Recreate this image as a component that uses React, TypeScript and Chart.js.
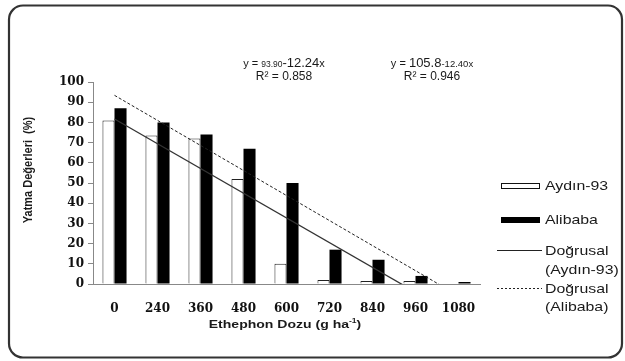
import React, { useEffect, useRef } from "react";
import { Chart, registerables } from "chart.js";

Chart.register(...registerables);

const doses = ["0", "240", "360", "480", "600", "720", "840", "960", "1080"];
const aydinValues = [81, 73.5, 72, 52, 10, 2, 1.5, 1.5, 0];
const alibabaValues = [87, 80, 74, 67, 50, 17, 12, 4, 1];
// Linear trend lines (y = 93.90 - 12.24x and y = 105.8 - 12.40x): two points each, read at
// the first category and at a category where the line is already below the axis (clipped there).
const aydinTrend = [81.66, null, null, null, null, null, null, -4.02, null];
const alibabaTrend = [93.4, null, null, null, null, null, null, null, -5.8];

const SANS = '"Liberation Sans", Arial, sans-serif';
const HS = 1.22;

function scaledText(ctx: CanvasRenderingContext2D, text: string, x: number, y: number, font: string, align: CanvasTextAlign, hs: number) {
  ctx.save();
  ctx.font = font;
  ctx.translate(x, y);
  ctx.scale(hs, 1);
  ctx.textAlign = align;
  ctx.textBaseline = "middle";
  ctx.fillText(text, 0, 0);
  ctx.restore();
}

function drawRuns(ctx: CanvasRenderingContext2D, runs: [string, string][], cx: number, baseline: number) {
  ctx.save();
  ctx.textBaseline = "alphabetic";
  ctx.textAlign = "left";
  let total = 0;
  for (const [t, f] of runs) {
    ctx.font = f;
    total += ctx.measureText(t).width;
  }
  let x = cx - total / 2;
  for (const [t, f] of runs) {
    ctx.font = f;
    ctx.fillText(t, x, baseline);
    x += ctx.measureText(t).width;
  }
  ctx.restore();
}

const decorPlugin = {
  id: "decor",
  beforeDraw(chart: any) {
    const ctx: CanvasRenderingContext2D = chart.ctx;
    ctx.save();
    ctx.fillStyle = "#ffffff";
    ctx.fillRect(0, 0, chart.width, chart.height);
    ctx.strokeStyle = "#333333";
    ctx.lineWidth = 2.2;
    ctx.beginPath();
    ctx.roundRect(9, 5.5, 613, 352, 14);
    ctx.stroke();
    ctx.restore();
  },
  afterDraw(chart: any) {
    const ctx: CanvasRenderingContext2D = chart.ctx;
    ctx.save();
    ctx.fillStyle = "#1a1a1a";
    // equations
    drawRuns(ctx, [
      ["y = ", `11px ${SANS}`],
      ["93.90", `8.5px ${SANS}`],
      ["-12.24", `13px ${SANS}`],
      ["x", `11px ${SANS}`],
    ], 284, 67);
    drawRuns(ctx, [["R\u00B2 = 0.858", `12px ${SANS}`]], 284, 80);
    drawRuns(ctx, [
      ["y = ", `11px ${SANS}`],
      ["105.8", `13px ${SANS}`],
      ["-12.40x", `9.5px ${SANS}`],
    ], 432, 67);
    drawRuns(ctx, [["R\u00B2 = 0.946", `12px ${SANS}`]], 432, 80);

    // y axis title
    ctx.save();
    ctx.translate(28, 170);
    ctx.rotate(-Math.PI / 2);
    ctx.font = `bold 11px ${SANS}`;
    ctx.textAlign = "center";
    ctx.textBaseline = "middle";
    ctx.scale(1, HS);
    ctx.fillText("Yatma De\u011Ferleri  (%)", 0, 0);
    ctx.restore();

    // x axis title
    {
      const main = "Ethephon Dozu (g ha";
      const sup = "-1";
      const end = ")";
      const fMain = `bold 11.5px ${SANS}`;
      const fSup = `bold 7px ${SANS}`;
      ctx.font = fMain;
      const w1 = ctx.measureText(main).width;
      const w3 = ctx.measureText(end).width;
      ctx.font = fSup;
      const w2 = ctx.measureText(sup).width;
      const total = (w1 + w2 + w3) * HS;
      let x = 285 - total / 2;
      scaledText(ctx, main, x, 325, fMain, "left", HS);
      x += w1 * HS;
      scaledText(ctx, sup, x, 321, fSup, "left", HS);
      x += w2 * HS;
      scaledText(ctx, end, x, 325, fMain, "left", HS);
    }

    // legend
    ctx.lineWidth = 1;
    ctx.strokeStyle = "#111";
    ctx.fillStyle = "#ffffff";
    ctx.fillRect(501.5, 183.5, 38, 5);
    ctx.strokeRect(501.5, 183.5, 38, 5);
    ctx.fillStyle = "#000000";
    ctx.fillRect(501, 217, 39, 6);
    ctx.strokeStyle = "#222";
    ctx.beginPath();
    ctx.moveTo(497, 250.5);
    ctx.lineTo(542, 250.5);
    ctx.stroke();
    ctx.setLineDash([2, 2]);
    ctx.beginPath();
    ctx.moveTo(497, 288.5);
    ctx.lineTo(542, 288.5);
    ctx.stroke();
    ctx.setLineDash([]);
    ctx.fillStyle = "#1a1a1a";
    const lf = `13px ${SANS}`;
    scaledText(ctx, "Ayd\u0131n-93", 545, 186.5, lf, "left", HS);
    scaledText(ctx, "Alibaba", 545, 220, lf, "left", HS);
    scaledText(ctx, "Do\u011Frusal", 545, 251.5, lf, "left", HS);
    scaledText(ctx, "(Ayd\u0131n-93)", 545, 270.5, lf, "left", HS);
    scaledText(ctx, "Do\u011Frusal", 545, 289, lf, "left", HS);
    scaledText(ctx, "(Alibaba)", 545, 307, lf, "left", HS);
    ctx.restore();
  },
};

export default function App() {
  const ref = useRef<HTMLCanvasElement | null>(null);
  useEffect(() => {
    document.body.style.margin = "0";
    const canvas = ref.current!;
    const chart = new Chart(canvas, {
      type: "bar",
      data: {
        labels: doses,
        datasets: [
          {
            type: "bar",
            label: "Ayd\u0131n-93",
            data: aydinValues,
            backgroundColor: "#ffffff",
            borderColor: "#222222",
            borderWidth: 1,
            categoryPercentage: 0.56,
            barPercentage: 1.0,
            order: 2,
          },
          {
            type: "bar",
            label: "Alibaba",
            data: alibabaValues,
            backgroundColor: "#000000",
            borderColor: "#000000",
            borderWidth: 0,
            categoryPercentage: 0.56,
            barPercentage: 1.0,
            order: 2,
          },
          {
            type: "line",
            label: "Do\u011Frusal (Ayd\u0131n-93)",
            data: aydinTrend,
            spanGaps: true,
            borderColor: "#333333",
            borderWidth: 1.3,
            pointRadius: 0,
            order: 0,
          } as any,
          {
            type: "line",
            label: "Do\u011Frusal (Alibaba)",
            data: alibabaTrend,
            spanGaps: true,
            borderColor: "#222222",
            borderWidth: 1,
            borderDash: [3, 2],
            pointRadius: 0,
            order: 0,
          } as any,
        ],
      },
      options: {
        animation: false,
        responsive: false,
        devicePixelRatio: 1,
        layout: { padding: { top: 82, right: 145, left: 0, bottom: 0 } },
        plugins: { legend: { display: false }, tooltip: { enabled: false } },
        scales: {
          x: {
            type: "category",
            offset: true,
            grid: { display: true, drawOnChartArea: false, drawTicks: false, offset: true, color: "#888" },
            border: { display: true, color: "#888888", width: 1 },
            ticks: {
              padding: 18,
              color: "#111",
              font: { family: '"DejaVu Serif", serif', weight: "bold", size: 12 },
            },
            afterFit: (s: any) => { s.height = 77; },
          },
          y: {
            min: 0,
            max: 100,
            ticks: {
              stepSize: 10,
              padding: 4,
              color: "#111",
              font: { family: '"DejaVu Serif", serif', weight: "bold", size: 12 },
            },
            grid: { drawOnChartArea: false, drawTicks: true, tickLength: 5, color: "#888888" },
            border: { display: true, color: "#888888", width: 1 },
            afterFit: (s: any) => { s.width = 93; },
          },
        },
      } as any,
      plugins: [decorPlugin],
    });
    return () => chart.destroy();
  }, []);
  return (
    <div style={{ width: 625, height: 361, position: "relative" }}>
      <canvas ref={ref} width={625} height={361} style={{ display: "block" }} />
    </div>
  );
}
